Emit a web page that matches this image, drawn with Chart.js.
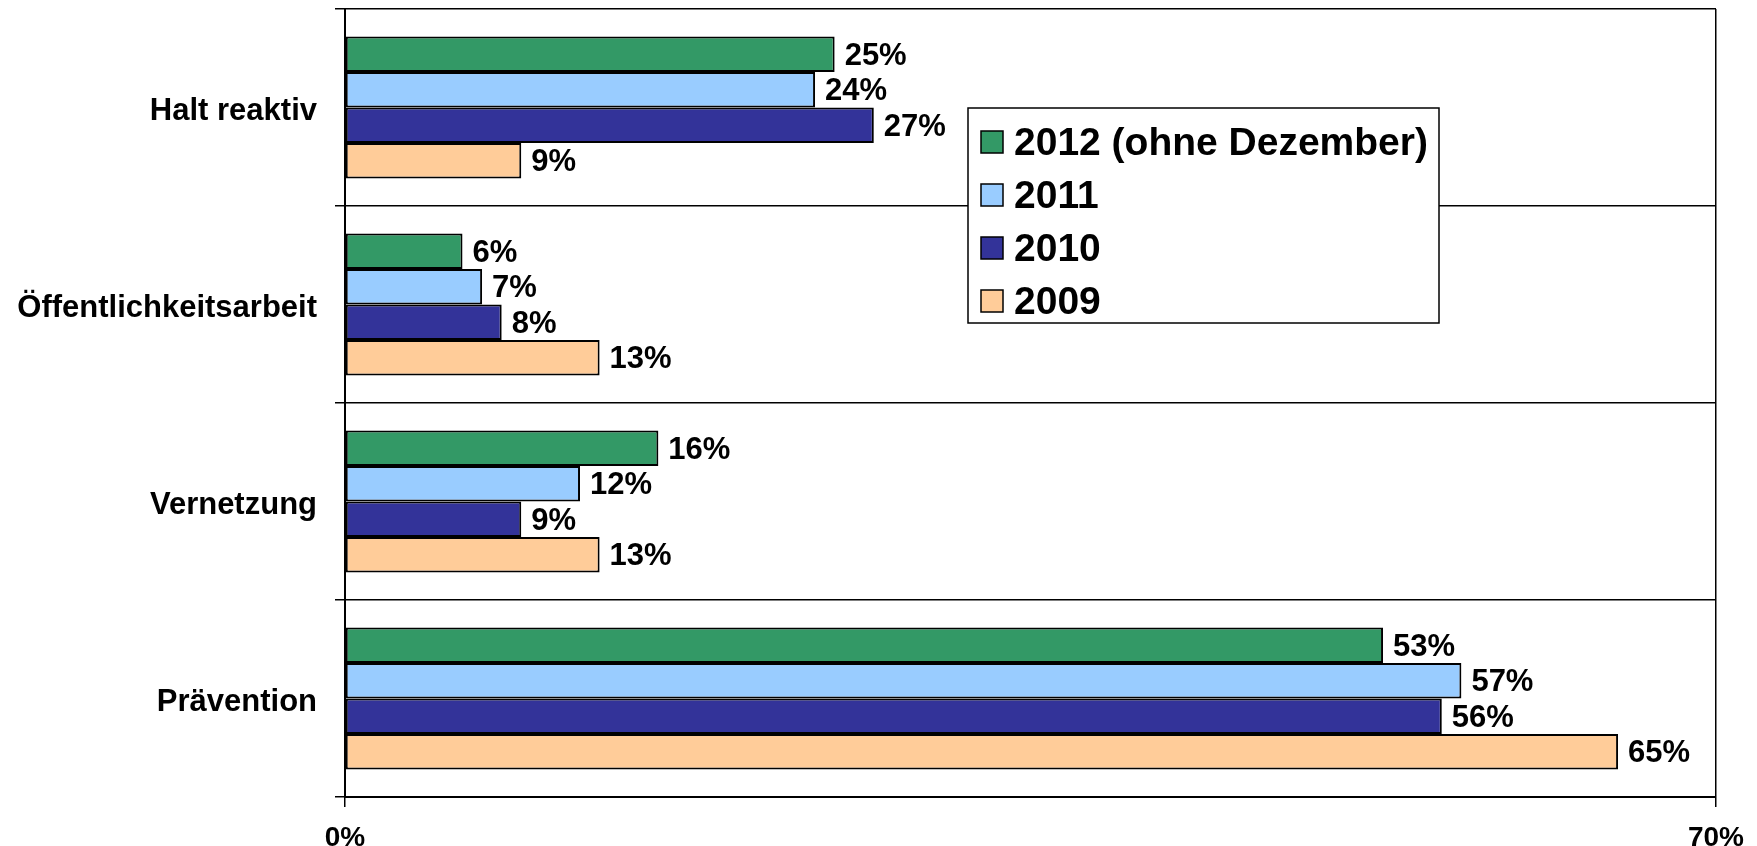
<!DOCTYPE html>
<html>
<head>
<meta charset="utf-8">
<script src="https://cdn.jsdelivr.net/npm/chart.js@4/dist/chart.umd.min.js"></script>
<style>
  body { margin: 0; background: #fff; }
  canvas { display: block; }
</style>
</head>
<body>
<canvas id="chart" width="1757" height="846"></canvas>
<script>
const categories = ['Halt reaktiv', 'Öffentlichkeitsarbeit', 'Vernetzung', 'Prävention']
const years = ['2012 (ohne Dezember)', '2011', '2010', '2009']
const v2012 = [25, 6, 16, 53]
const v2011 = [24, 7, 12, 57]
const v2010 = [27, 8, 9, 56]
const v2009 = [9, 13, 13, 65]
const xTicks = [0, 70]

const colors = ['#339966', '#99CCFF', '#333399', '#FFCC99']
const font = '"Liberation Sans", Arial, sans-serif'

// Prozentwerte rechts neben den Balken
const barLabels = {
    id: 'barLabels',
    afterDatasetsDraw(chart) {
        const ctx = chart.ctx
        ctx.save()
        ctx.font = 'bold 31px ' + font
        ctx.fillStyle = '#000'
        ctx.textAlign = 'left'
        ctx.textBaseline = 'middle'
        chart.data.datasets.forEach((ds, i) => {
            chart.getDatasetMeta(i).data.forEach((bar, j) => {
                ctx.fillText(ds.data[j] + '%', bar.x + 10, bar.y + 2)
            })
        })
        ctx.restore()
    }
}

// Legende im Diagramm, mit weißem Hintergrund
const boxLegend = {
    id: 'boxLegend',
    afterDraw(chart) {
        const ctx = chart.ctx
        const x = 968, y = 108, w = 471, h = 215
        ctx.save()
        ctx.fillStyle = '#fff'
        ctx.fillRect(x, y, w, h)
        ctx.strokeStyle = '#000'
        ctx.lineWidth = 1.5
        ctx.strokeRect(x, y, w, h)
        ctx.font = 'bold 39px ' + font
        ctx.textBaseline = 'middle'
        chart.data.datasets.forEach((ds, i) => {
            const cy = y + 34 + i * 53
            ctx.fillStyle = ds.backgroundColor
            ctx.fillRect(x + 13, cy - 11, 22, 22)
            ctx.strokeRect(x + 13, cy - 11, 22, 22)
            ctx.fillStyle = '#000'
            ctx.fillText(ds.label, x + 46, cy + 2)
        })
        ctx.restore()
    }
}

const noPad = (scale) => {
    scale.paddingTop = 0
    scale.paddingBottom = 0
    scale.paddingLeft = 0
    scale.paddingRight = 0
}

const series = [v2012, v2011, v2010, v2009]

new Chart(document.getElementById('chart'), {
    type: 'bar',
    data: {
        labels: categories,
        datasets: series.map((s, i) => ({
            label: years[i],
            data: s,
            backgroundColor: colors[i],
            borderColor: '#000',
            borderWidth: 2,
            borderSkipped: false,
            categoryPercentage: 0.72,
            barPercentage: 1.0
        }))
    },
    options: {
        indexAxis: 'y',
        responsive: false,
        animation: false,
        layout: { padding: { top: 9, right: 41, left: 0, bottom: 0 } },
        plugins: {
            legend: { display: false },
            tooltip: { enabled: false }
        },
        scales: {
            x: {
                min: 0,
                max: 70,
                afterBuildTicks: (scale) => { scale.ticks = xTicks.map(v => ({ value: v })) },
                afterFit: (scale) => { scale.height = 49; noPad(scale) },
                grid: { color: '#000', lineWidth: 1.5, tickLength: 10 },
                border: { color: '#000', width: 2 },
                ticks: {
                    padding: 14,
                    color: '#000',
                    font: { family: font, size: 28, weight: 'bold' },
                    callback: (v) => v + '%'
                }
            },
            y: {
                afterFit: (scale) => { scale.width = 345; noPad(scale) },
                grid: { color: '#000', lineWidth: 1.5, tickLength: 10, offset: true },
                border: { color: '#000', width: 2 },
                ticks: {
                    padding: 18,
                    labelOffset: 4,
                    color: '#000',
                    font: { family: font, size: 31, weight: 'bold' }
                }
            }
        }
    },
    plugins: [barLabels, boxLegend]
})
</script>
</body>
</html>
